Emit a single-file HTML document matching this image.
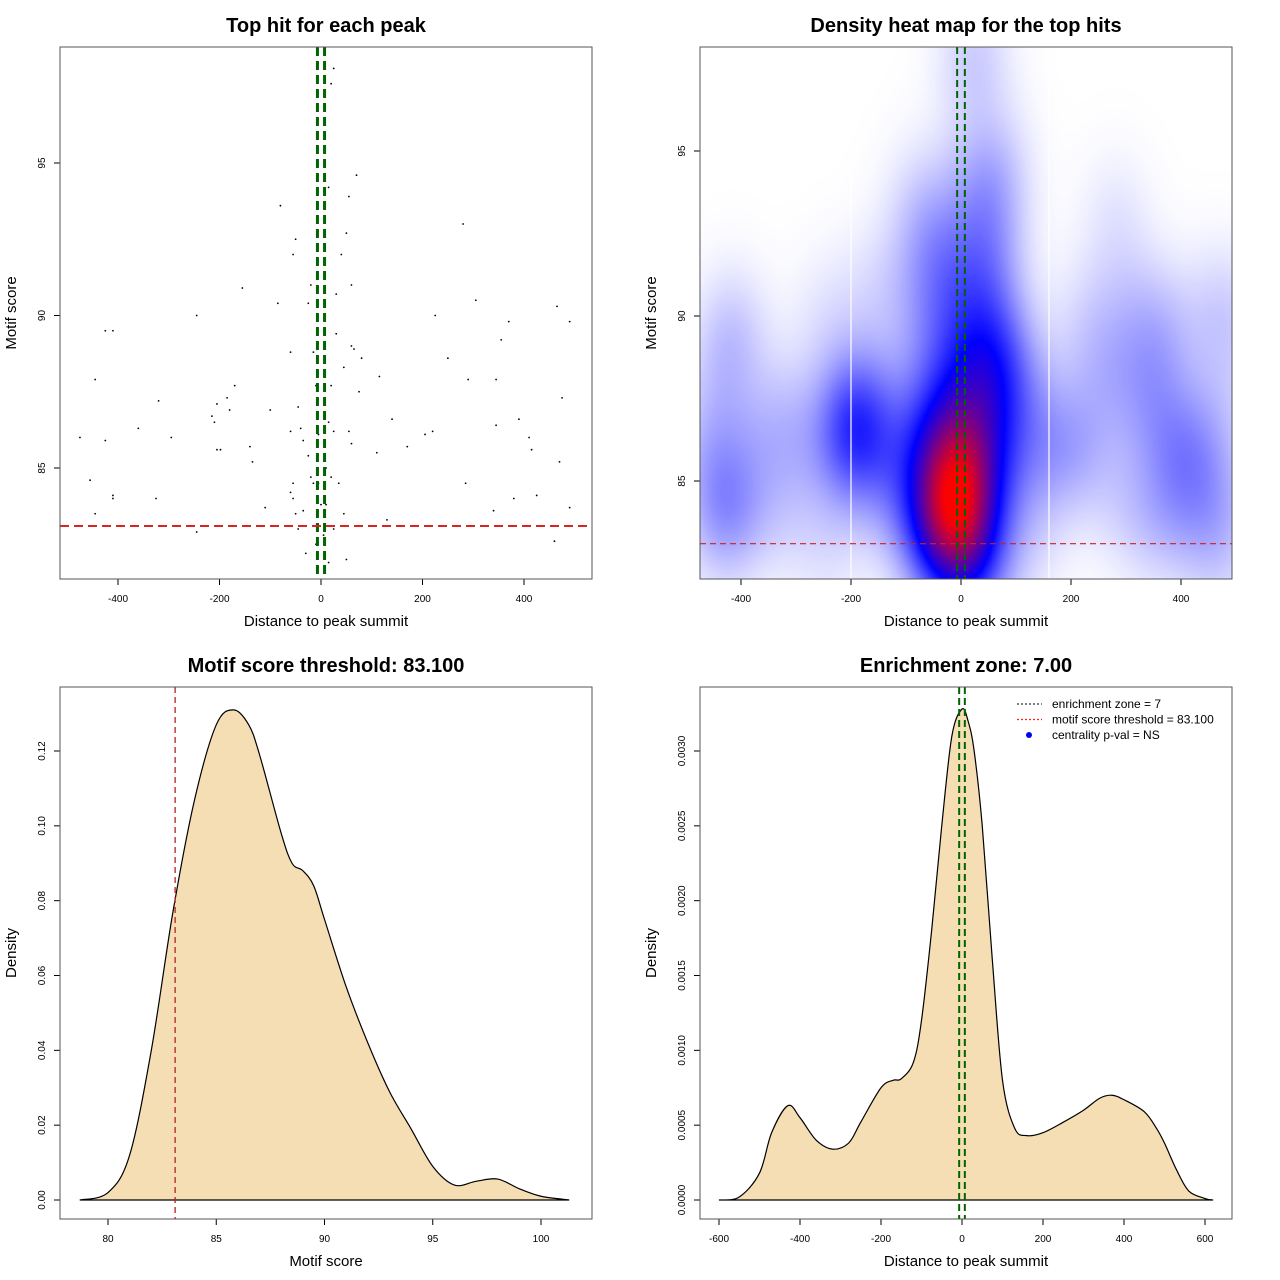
<!DOCTYPE html>
<html><head><meta charset="utf-8"><style>
body{margin:0;background:#fff;}
#wrap{position:relative;width:1280px;height:1280px;overflow:hidden;}
svg text{font-family:"Liberation Sans",sans-serif;}
</style></head><body>
<div id="wrap">
<canvas id="heat" width="532" height="532" style="position:absolute;left:700px;top:47px;"></canvas>
<svg id="svg" width="1280" height="1280" style="position:absolute;left:0;top:0;"></svg>
</div>
<script>
// ---- data ----
const scatterX = [-475,-455,-445,-445,-425,-425,-410,-410,-410,-360,-325,-320,-295,-245,-245,-215,-210,-205,-205,-198,-185,-180,-170,-155,-140,-135,-110,-100,-85,-80,-60,-60,-60,-55,-50,-45,-40,-35,-30,-25,-20,-15,-10,-5,15,20,25,40,45,50,55,60,65,70,75,80,110,115,130,140,170,205,220,225,250,280,285,290,305,340,345,345,355,370,380,390,410,415,425,460,465,470,475,490,490,-5,0,5,10,15,20,25,30,35,-20,-25,-35,-45,-50,50,55,60,45,-10,20,-55,-55,30,60,10,25,15,-15];
const scatterY = [86,84.6,87.9,83.5,89.5,85.9,89.5,84.1,84.0,86.3,84,87.2,86,90,82.9,86.7,86.5,87.1,85.6,85.6,87.3,86.9,87.7,90.9,85.7,85.2,83.7,86.9,90.4,93.6,88.8,86.2,84.2,92,92.5,87,86.3,83.6,82.2,90.4,91,88.8,87.7,86.1,94.2,97.6,98.1,92,88.3,92.7,93.9,91,88.9,94.6,87.5,88.6,85.5,88,83.3,86.6,85.7,86.1,86.2,90,88.6,93,84.5,87.9,90.5,83.6,87.9,86.4,89.2,89.8,84,86.6,86,85.6,84.1,82.6,90.3,85.2,87.3,83.7,89.8,84.5,83.8,82.8,85,86.5,87.7,86.2,89.4,84.5,84.7,85.4,85.9,83,83.5,82,86.2,85.8,83.5,82.5,84.7,84.5,84,90.7,89,83.8,83,81.9,84.5];
const scoreX = [78.7,80,81,82,83,84,85,85.8,86.5,87,88,88.5,89,89.5,90,91,92,93,94,95,96,97,98,99,100,101.3];
const scoreDens = [0,0.002,0.012,0.04,0.077,0.107,0.127,0.131,0.127,0.119,0.098,0.09,0.088,0.084,0.075,0.057,0.042,0.029,0.019,0.009,0.004,0.005,0.0056,0.003,0.001,0];
const distX = [-600,-550,-500,-470,-430,-400,-360,-320,-280,-250,-200,-170,-150,-120,-100,-75,-50,-25,0,15,30,50,75,100,130,160,200,250,300,340,370,400,450,480,500,530,560,600,620];
const distDens = [0,0.00002,0.00018,0.00045,0.00063,0.00055,0.0004,0.00034,0.00038,0.00052,0.00075,0.0008,0.00081,0.00092,0.0012,0.0018,0.0025,0.0031,0.00328,0.0032,0.003,0.0025,0.0016,0.0008,0.00048,0.00043,0.00045,0.00052,0.0006,0.00068,0.0007,0.00067,0.00059,0.00048,0.00038,0.0002,0.00006,0.00001,0];
const threshold = 83.1;
const zone = 7;

const NS='http://www.w3.org/2000/svg';
const svg=document.getElementById('svg');
function el(tag,attrs,parent,txt){const e=document.createElementNS(NS,tag);for(const k in attrs)e.setAttribute(k,attrs[k]);if(txt!==undefined)e.textContent=txt;(parent||svg).appendChild(e);return e;}
function lin(d0,d1,r0,r1){return v=>r0+(v-d0)*(r1-r0)/(d1-d0);}

function panel(name,box,title,xlab,ylab,xs,ys,xt,yt,yfmt){
  const g=el('g',{});
  
  
  const t=el('text',{x:(box.x0+box.x1)/2,y:box.y0-15,'text-anchor':'middle','font-size':20,'font-weight':'bold'},g,title);
  
  const xl=el('text',{x:(box.x0+box.x1)/2,y:box.y1+47,'text-anchor':'middle','font-size':15},g,xlab);
  
  const yx=box.x0-44, ymid=(box.y0+box.y1)/2;
  const yl=el('text',{x:yx,y:ymid,'text-anchor':'middle','font-size':15,transform:`rotate(-90 ${yx} ${ymid})`},g,ylab);
  
  const xa=el('g',{},g);
  xt.forEach(v=>{el('line',{x1:xs(v),x2:xs(v),y1:box.y1,y2:box.y1+6,stroke:'#000'},xa);
    const tx=el('text',{x:xs(v),y:box.y1+23,'text-anchor':'middle','font-size':10},xa,String(v));
    });
  const ya=el('g',{},g);
  yt.forEach(v=>{const y=ys(v);el('line',{x1:box.x0-6,x2:box.x0,y1:y,y2:y,stroke:'#000'},ya);
    const tx=el('text',{x:box.x0-15,y:y,'text-anchor':'middle','font-size':10,transform:`rotate(-90 ${box.x0-15} ${y})`},ya,yfmt?yfmt(v):String(v));
    });
  return g;
}
function frame(box,g){const r=el('rect',{x:box.x0,y:box.y0,width:box.x1-box.x0,height:box.y1-box.y0,fill:'none',stroke:'#555'},g);
  }
function vline(x,box,g,color,w,dash,name){const l=el('line',{x1:x,x2:x,y1:box.y0,y2:box.y1,stroke:color,'stroke-width':w,'stroke-dasharray':dash},g);
  }
function hline(y,box,g,color,w,dash,name){const l=el('line',{x1:box.x0,x2:box.x1,y1:y,y2:y,stroke:color,'stroke-width':w,'stroke-dasharray':dash},g);
  }

// ---- Panel 1: scatter ----
const b1={x0:60,y0:47,x1:592,y1:579};
const x1s=lin(-400,400,118,524), y1s=lin(85,95,468,163);
const g1=panel('scatter-panel',b1,'Top hit for each peak','Distance to peak summit','Motif score',x1s,y1s,[-400,-200,0,200,400],[85,90,95]);
scatterX.forEach((x,i)=>{const c=el('circle',{cx:x1s(x),cy:y1s(scatterY[i]),r:0.9,fill:'#000'},g1);
  });
vline(x1s(-zone),b1,g1,'#006400',3,'9,5','enrichment-zone-left');
vline(x1s(zone),b1,g1,'#006400',3,'9,5','enrichment-zone-right');
hline(y1s(threshold),b1,g1,'#dd2222',2,'9,5','score-threshold-line');
frame(b1,g1);

// ---- Panel 2: heatmap ----
const b2={x0:700,y0:47,x1:1232,y1:579};
const x2s=lin(-400,400,741,1181), y2s=lin(85,95,481,151);
const g2=panel('heatmap-panel',b2,'Density heat map for the top hits','Distance to peak summit','Motif score',x2s,y2s,[-400,-200,0,200,400],[85,90,95]);
(function(){
  const cv=document.getElementById('heat'),ctx=cv.getContext('2d');
  const W=532,H=532,img=ctx.createImageData(W,H);
  const bx=48*0.55, by=1.5*33;
  const px=scatterX.map(x=>x2s(x)-b2.x0), py=scatterY.map(y=>y2s(y)-b2.y0);
  const step=2, gw=W/step, gh=H/step; const D=new Float32Array(gw*gh); let mx=0;
  for(let j=0;j<gh;j++)for(let i=0;i<gw;i++){let s=0;const X=i*step,Y=j*step;
    for(let k=0;k<px.length;k++){const dx=(X-px[k])/bx,dy=(Y-py[k])/by;const q=dx*dx+dy*dy;if(q<14)s+=Math.exp(-0.5*q);}
    D[j*gw+i]=s;if(s>mx)mx=s;}
  for(let y=0;y<H;y++)for(let x=0;x<W;x++){
    let t=D[Math.min(gh-1,y/step|0)*gw+Math.min(gw-1,x/step|0)]/mx; t=Math.pow(t,1.3);
    let r,g,b; const m=0.42; if(t<m){const u=Math.pow(t/m,0.85);r=255*(1-u);g=255*(1-u);b=255;}else{const u=Math.min(1,(t-m)/(0.95-m));r=255*u;g=0;b=255*(1-u);}
    const o=(y*W+x)*4;img.data[o]=r;img.data[o+1]=g;img.data[o+2]=b;img.data[o+3]=255;}
  ctx.putImageData(img,0,0);
})();
vline(x2s(-200),b2,g2,'#fff',1.2,'','heatmap-gap-left');
vline(x2s(160),b2,g2,'#fff',1.2,'','heatmap-gap-right');
vline(x2s(-zone),b2,g2,'#006400',2,'7,4','enrichment-zone-left');
vline(x2s(zone),b2,g2,'#006400',2,'7,4','enrichment-zone-right');
hline(y2s(threshold),b2,g2,'#cc2222',1.2,'6,4','score-threshold-line');
frame(b2,g2);

// ---- Panel 3: score density ----
const b3={x0:60,y0:687,x1:592,y1:1219};
const x3s=lin(80,100,108,541), y3s=lin(0,0.12,1200,751);
const g3=panel('score-density-panel',b3,'Motif score threshold: 83.100','Motif score','Density',x3s,y3s,[80,85,90,95,100],[0,0.02,0.04,0.06,0.08,0.10,0.12],v=>v.toFixed(2));
function curve(xs,ys,X,Y,g,name){
  const P=X.map((x,i)=>[xs(x),ys(Y[i])]);let d='M'+P[0][0]+','+P[0][1];
  for(let i=0;i<P.length-1;i++){const p0=P[Math.max(0,i-1)],p1=P[i],p2=P[i+1],p3=P[Math.min(P.length-1,i+2)];
    d+=` C${p1[0]+(p2[0]-p0[0])/6},${p1[1]+(p2[1]-p0[1])/6} ${p2[0]-(p3[0]-p1[0])/6},${p2[1]-(p3[1]-p1[1])/6} ${p2[0]},${p2[1]}`;}
  const p=el('path',{d:d+' Z',fill:'#F5DEB3',stroke:'#000','stroke-width':1.2},g);
  }
curve(x3s,y3s,scoreX,scoreDens,g3,'score-density-curve');
hline(y3s(0),{x0:x3s(scoreX[0]),x1:x3s(scoreX[scoreX.length-1])},g3,'#000',1,'','density-baseline');
vline(x3s(threshold),b3,g3,'#b22222',1.3,'6,4','score-threshold-line');
frame(b3,g3);

// ---- Panel 4: distance density ----
const b4={x0:700,y0:687,x1:1232,y1:1219};
const x4s=lin(-600,600,719,1205), y4s=lin(0,0.003,1200,751);
const g4=panel('distance-density-panel',b4,'Enrichment zone: 7.00','Distance to peak summit','Density',x4s,y4s,[-600,-400,-200,0,200,400,600],[0,0.0005,0.001,0.0015,0.002,0.0025,0.003],v=>v.toFixed(4));
curve(x4s,y4s,distX,distDens,g4,'distance-density-curve');
hline(y4s(0),{x0:x4s(distX[0]),x1:x4s(distX[distX.length-1])},g4,'#000',1,'','density-baseline');
vline(x4s(-zone),b4,g4,'#006400',2,'7,4','enrichment-zone-left');
vline(x4s(zone),b4,g4,'#006400',2,'7,4','enrichment-zone-right');
frame(b4,g4);
const lg=el('g',{},g4);
[['enrichment zone = 7','#333','line'],['motif score threshold = 83.100','#ee2222','line'],['centrality p-val = NS','#0000ff','dot']].forEach((e,i)=>{
  const y=704+i*15.5;const it=el('g',{},lg);
  if(e[2]==='line')el('line',{x1:1017,x2:1042,y1:y,y2:y,stroke:e[1],'stroke-dasharray':'2,2','stroke-width':1.2},it);
  else el('circle',{cx:1029,cy:y,r:3,fill:e[1]},it);
  el('text',{x:1052,y:y+4,'font-size':12},it,e[0]);});
</script>
</body></html>
